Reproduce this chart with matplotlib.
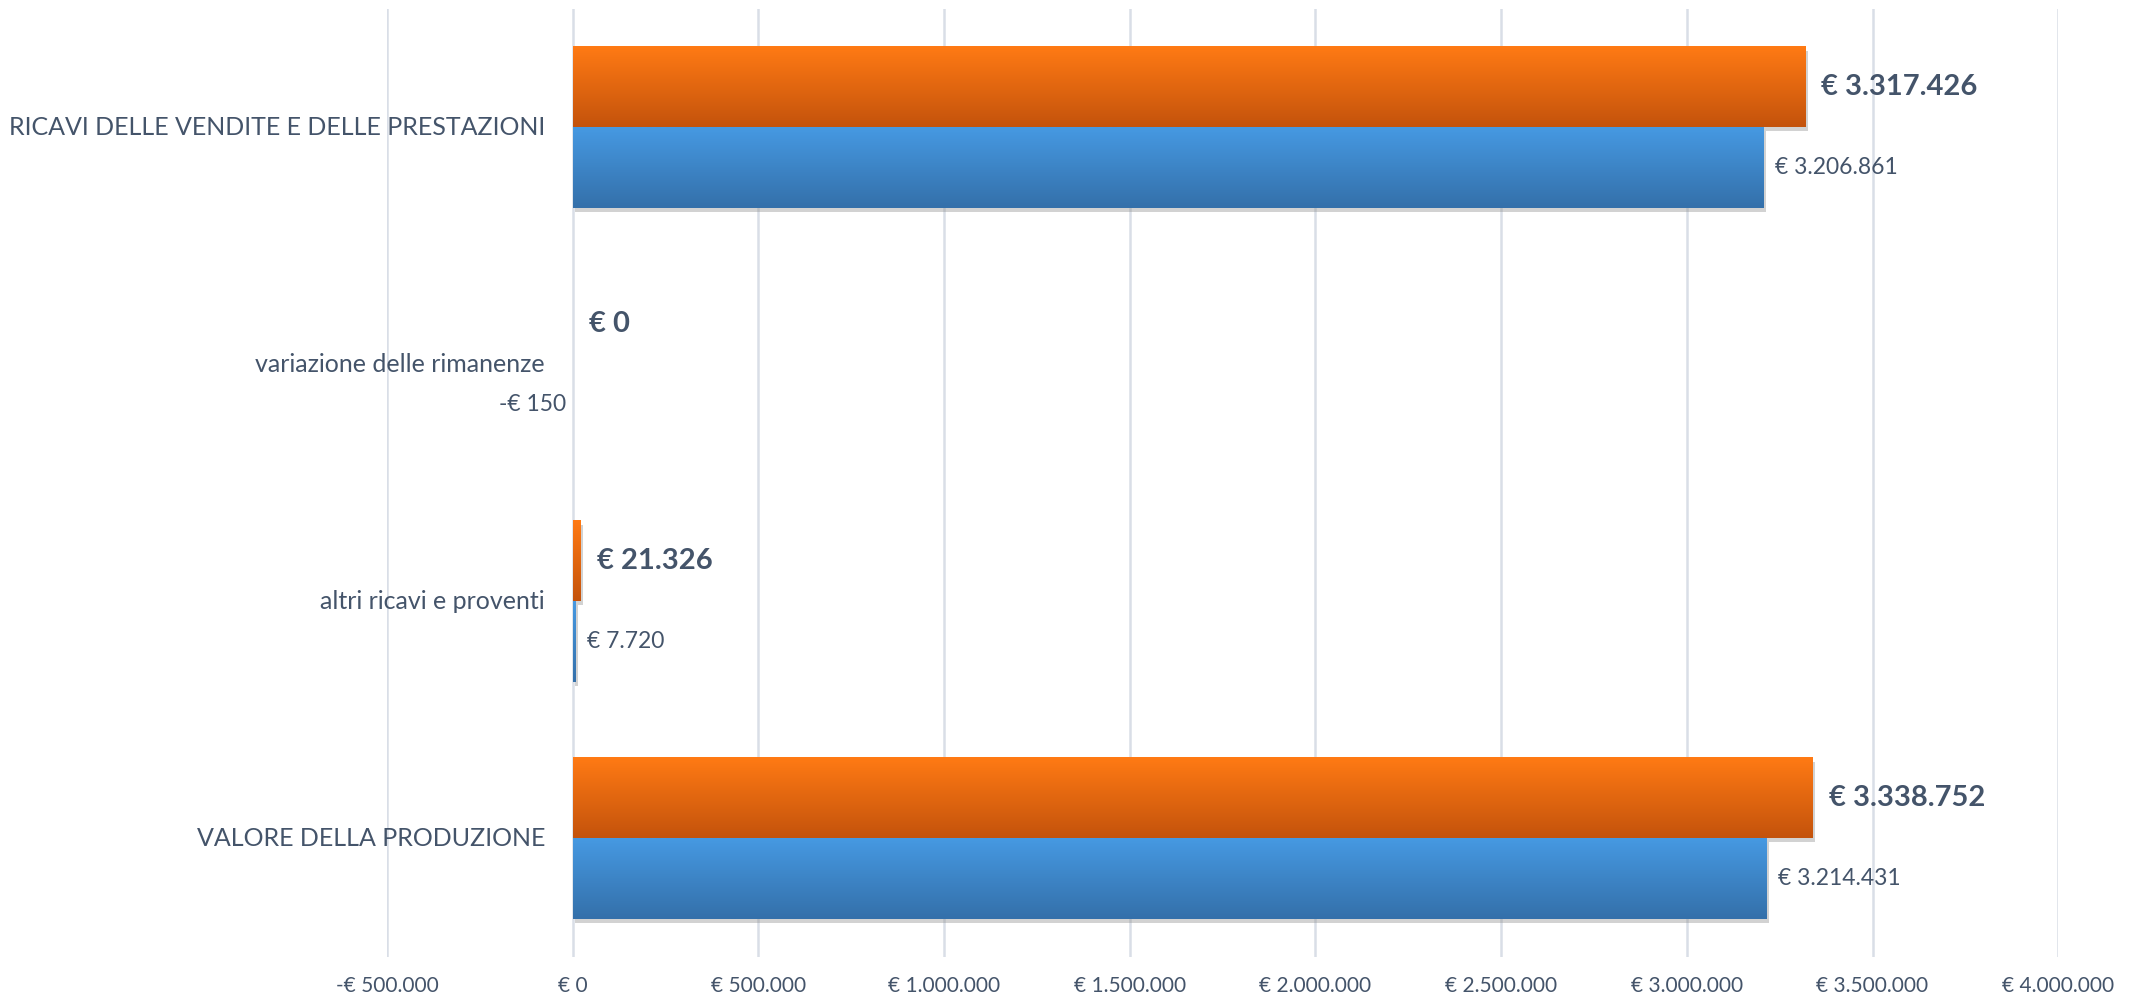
import numpy as np
import matplotlib
matplotlib.use("Agg")
import matplotlib.pyplot as plt
import matplotlib.patheffects as pe
from matplotlib.colors import to_rgb
from matplotlib.ticker import FuncFormatter

# dati (euro)
categorie = ["RICAVI DELLE VENDITE E DELLE PRESTAZIONI",
             "variazione delle rimanenze",
             "altri ricavi e proventi",
             "VALORE DELLA PRODUZIONE"]
anno_corrente = [3317426, 0, 21326, 3338752]
anno_precedente = [3206861, -150, 7720, 3214431]
tick_valori = [-500000, 0, 500000, 1000000, 1500000, 2000000,
               2500000, 3000000, 3500000, 4000000]

TESTO = "#44546A"
GRIGLIA = "#D9DEE7"
ARANCIO = ("#FF7A14", "#C4530C")
BLU = ("#4699E2", "#3470AA")

plt.rcParams['font.family'] = ['Lato', 'DejaVu Sans']


def euro(v, pos=None):
    s = "{:,.0f}".format(abs(v)).replace(",", ".")
    return ("-€ " if v < 0 else "€ ") + s


def gradiente(ax, x0, x1, y_basso, y_alto, colori, z):
    c0 = np.array(to_rgb(colori[0]))
    c1 = np.array(to_rgb(colori[1]))
    t = np.linspace(0, 1, 64)[:, None]
    img = (c0 * (1 - t) + c1 * t)[:, None, :]
    ax.imshow(img, extent=(min(x0, x1), max(x0, x1), y_basso, y_alto),
              origin="upper", aspect="auto", interpolation="bilinear", zorder=z)


fig = plt.figure(figsize=(21.44, 10.02), dpi=100)
ax = fig.add_axes([0.1805, 0.0454, 0.7795, 0.9461])

n = len(categorie)
y = np.arange(n)[::-1]
h = 0.34

ombra = [pe.SimplePatchShadow(offset=(2, -3), shadow_rgbFace="#8f8f8f", alpha=0.4),
         pe.Normal()]

b_cor = ax.barh(y + h / 2, anno_corrente, height=h, color=ARANCIO[0],
                lw=0, zorder=3)
b_pre = ax.barh(y - h / 2, anno_precedente, height=h, color=BLU[0],
                lw=0, zorder=3)
# ombra solo sulle barre abbastanza larghe da vedersi
for barra in list(b_cor) + list(b_pre):
    if abs(barra.get_width()) > 1000:
        barra.set_path_effects(ombra)

for yi, v in zip(y, anno_corrente):
    if v != 0:
        gradiente(ax, 0, v, yi, yi + h, ARANCIO, 4)
for yi, v in zip(y, anno_precedente):
    if abs(v) > 1000:
        gradiente(ax, 0, v, yi - h, yi, BLU, 4)

# etichette dei valori
for yi, v in zip(y, anno_corrente):
    ax.annotate(euro(v), xy=(max(v, 0), yi + h / 2), xytext=(12, 0),
                textcoords="offset points", ha="left", va="center",
                fontsize=21, fontweight="bold", color=TESTO, zorder=6)
for yi, v in zip(y, anno_precedente):
    if v < 0:
        ax.annotate(euro(v), xy=(v, yi - h / 2), xytext=(-5, 0),
                    textcoords="offset points", ha="right", va="center",
                    fontsize=16.5, color=TESTO, zorder=6)
    else:
        ax.annotate(euro(v), xy=(v, yi - h / 2), xytext=(8, 0),
                    textcoords="offset points", ha="left", va="center",
                    fontsize=16.5, color=TESTO, zorder=6)

# nomi delle voci accanto all'asse dello zero
for yi, nome in zip(y, categorie):
    ax.annotate(nome, xy=(0, yi), xytext=(-20, 0), textcoords="offset points",
                ha="right", va="center", fontsize=18, color=TESTO,
                annotation_clip=False, zorder=6)

ax.set_xlim(-500000, 4000000)
ax.set_ylim(-0.5, n - 0.5)
ax.set_xticks(tick_valori)
ax.xaxis.set_major_formatter(FuncFormatter(euro))
ax.set_yticks([])
ax.tick_params(axis="x", length=0, pad=14, labelsize=15, labelcolor=TESTO)
ax.grid(axis="x", color=GRIGLIA, lw=1.8, zorder=0)
ax.set_axisbelow(True)
for s in ax.spines.values():
    s.set_visible(False)

fig.savefig("out.png", dpi=100, facecolor="white")
